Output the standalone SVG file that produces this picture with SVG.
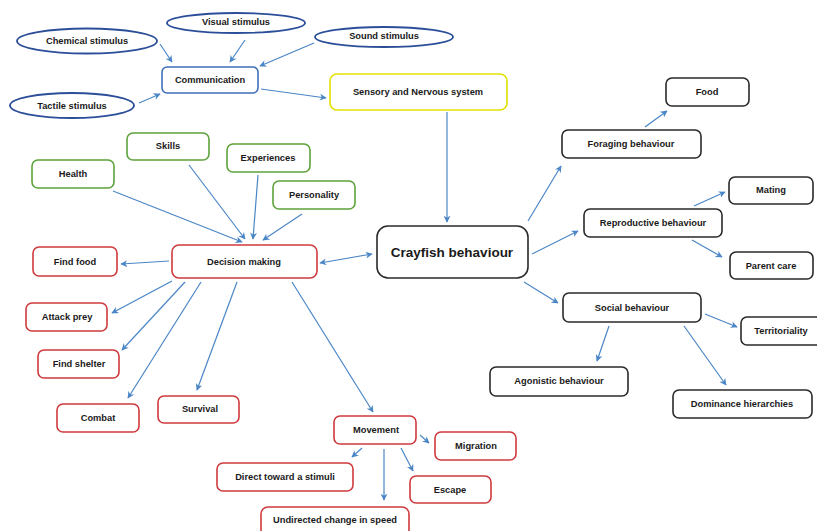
<svg xmlns="http://www.w3.org/2000/svg" width="817" height="531" viewBox="0 0 817 531">
<defs>
<style>
text{font-family:"Liberation Sans",Arial,sans-serif;font-weight:bold;font-size:9.3px;fill:#1a1a1a;text-anchor:middle;dominant-baseline:central}
.ell{fill:#fff;stroke:#2B4E98;stroke-width:1.8}
.b{fill:#fff;stroke-width:1.6}
.blue{stroke:#3D6FB8}
.yel{stroke:#E2E200}
.grn{stroke:#5DA23A}
.red{stroke:#CF3A3E}
.blk{stroke:#2a2a2a}
.big{font-size:13.5px}
#connectors line{stroke:#4A86C6;stroke-width:1.2;fill:none;marker-end:url(#ah)}
</style>
<marker id="ah" viewBox="0 0 10 10" refX="9" refY="5" markerWidth="7" markerHeight="7" markerUnits="userSpaceOnUse" orient="auto-start-reverse">
<path d="M0,0 L10,5 L0,10 L3,5 Z" fill="#4A86C6"/>
</marker>
</defs>
<rect width="817" height="531" fill="#fff"/>
<g id="connectors">
<line x1="160" y1="44" x2="172" y2="62"/>
<line x1="245" y1="40" x2="230" y2="62"/>
<line x1="314" y1="43" x2="260" y2="66"/>
<line x1="139" y1="103" x2="160" y2="94"/>
<line x1="261" y1="89" x2="326" y2="98"/>
<line x1="447" y1="112" x2="447" y2="222"/>
<line x1="113" y1="191" x2="242" y2="242"/>
<line x1="189" y1="165" x2="245" y2="239"/>
<line x1="258" y1="175" x2="253" y2="239"/>
<line x1="302" y1="214" x2="263" y2="240"/>
<line x1="169" y1="261" x2="121" y2="264"/>
<line x1="320" y1="263" x2="372" y2="254" style="marker-start:url(#ah)"/>
<line x1="172" y1="281" x2="112" y2="313"/>
<line x1="185" y1="282" x2="122" y2="350"/>
<line x1="201" y1="282" x2="128" y2="398"/>
<line x1="237" y1="282" x2="197" y2="390"/>
<line x1="292" y1="282" x2="373" y2="412"/>
<line x1="362" y1="448" x2="352" y2="457"/>
<line x1="384" y1="449" x2="384" y2="500"/>
<line x1="401" y1="448" x2="413" y2="471"/>
<line x1="420" y1="435" x2="429" y2="443"/>
<line x1="528" y1="221" x2="561" y2="166"/>
<line x1="645" y1="127" x2="667" y2="111"/>
<line x1="532" y1="254" x2="578" y2="231"/>
<line x1="694" y1="206" x2="725" y2="192"/>
<line x1="692" y1="240" x2="722" y2="257"/>
<line x1="524" y1="282" x2="558" y2="303"/>
<line x1="705" y1="314" x2="737" y2="327"/>
<line x1="609" y1="326" x2="597" y2="361"/>
<line x1="684" y1="326" x2="726" y2="385"/>
</g>
<g id="chemical"><ellipse class="ell" cx="87" cy="41" rx="70" ry="12.5"/><text x="87" y="41">Chemical stimulus</text></g>
<g id="visual"><ellipse class="ell" cx="236" cy="23" rx="69" ry="10"/><text x="236" y="22">Visual stimulus</text></g>
<g id="sound"><ellipse class="ell" cx="384" cy="37" rx="69" ry="10"/><text x="384" y="36">Sound stimulus</text></g>
<g id="tactile"><ellipse class="ell" cx="72" cy="105.5" rx="62" ry="12.5"/><text x="72" y="106">Tactile stimulus</text></g>
<g id="communication"><rect class="b blue" x="162" y="67" width="96" height="26" rx="5"/><text x="210" y="80">Communication</text></g>
<g id="sensory"><rect class="b yel" x="330" y="74" width="177" height="36" rx="7"/><text x="418" y="92">Sensory and Nervous system</text></g>
<g id="health"><rect class="b grn" x="32" y="160" width="82" height="28" rx="6"/><text x="73" y="174">Health</text></g>
<g id="skills"><rect class="b grn" x="127" y="133" width="82" height="27" rx="6"/><text x="168" y="146">Skills</text></g>
<g id="experiences"><rect class="b grn" x="227" y="144" width="83" height="28" rx="6"/><text x="268" y="158">Experiences</text></g>
<g id="personality"><rect class="b grn" x="273" y="181" width="82" height="28" rx="6"/><text x="314" y="195">Personality</text></g>
<g id="findfood"><rect class="b red" x="33" y="247" width="84" height="29" rx="6"/><text x="75" y="262">Find food</text></g>
<g id="decision"><rect class="b red" x="172" y="245" width="145" height="33" rx="7"/><text x="244" y="262">Decision making</text></g>
<g id="attackprey"><rect class="b red" x="26" y="303" width="81" height="28" rx="6"/><text x="67" y="317">Attack prey</text></g>
<g id="findshelter"><rect class="b red" x="38" y="350" width="81" height="28" rx="6"/><text x="79" y="364">Find shelter</text></g>
<g id="combat"><rect class="b red" x="57" y="404" width="82" height="28" rx="6"/><text x="98" y="418">Combat</text></g>
<g id="survival"><rect class="b red" x="158" y="396" width="81" height="27" rx="6"/><text x="200" y="409">Survival</text></g>
<g id="movement"><rect class="b red" x="334" y="416" width="82" height="28" rx="6"/><text x="376" y="430">Movement</text></g>
<g id="migration"><rect class="b red" x="435" y="432" width="81" height="28" rx="6"/><text x="476" y="446">Migration</text></g>
<g id="direct"><rect class="b red" x="217" y="463" width="136" height="28" rx="6"/><text x="285" y="477">Direct toward a stimuli</text></g>
<g id="escape"><rect class="b red" x="410" y="476" width="81" height="27" rx="6"/><text x="450" y="490">Escape</text></g>
<g id="undirected"><rect class="b red" x="261" y="507" width="148" height="30" rx="7"/><text x="335" y="520">Undirected change in speed</text></g>
<g id="crayfish"><rect class="b blk" x="377" y="226" width="151" height="52" rx="11"/><text class="big" x="452" y="252">Crayfish behaviour</text></g>
<g id="food"><rect class="b blk" x="666" y="78" width="83" height="28" rx="6"/><text x="707" y="92">Food</text></g>
<g id="foraging"><rect class="b blk" x="562" y="130" width="139" height="28" rx="6"/><text x="631" y="144">Foraging behaviour</text></g>
<g id="mating"><rect class="b blk" x="729" y="177" width="84" height="27" rx="6"/><text x="771" y="190">Mating</text></g>
<g id="reproductive"><rect class="b blk" x="584" y="209" width="138" height="28" rx="6"/><text x="653" y="223">Reproductive behaviour</text></g>
<g id="parentcare"><rect class="b blk" x="730" y="252" width="83" height="27" rx="6"/><text x="771" y="266">Parent care</text></g>
<g id="social"><rect class="b blk" x="563" y="293" width="138" height="29" rx="6"/><text x="632" y="308">Social behaviour</text></g>
<g id="territoriality"><rect class="b blk" x="741" y="317" width="82" height="28" rx="6"/><text x="781" y="331">Territoriality</text></g>
<g id="agonistic"><rect class="b blk" x="490" y="367" width="138" height="29" rx="6"/><text x="559" y="381">Agonistic behaviour</text></g>
<g id="dominance"><rect class="b blk" x="673" y="390" width="139" height="28" rx="6"/><text x="742" y="404">Dominance hierarchies</text></g>
</svg>
